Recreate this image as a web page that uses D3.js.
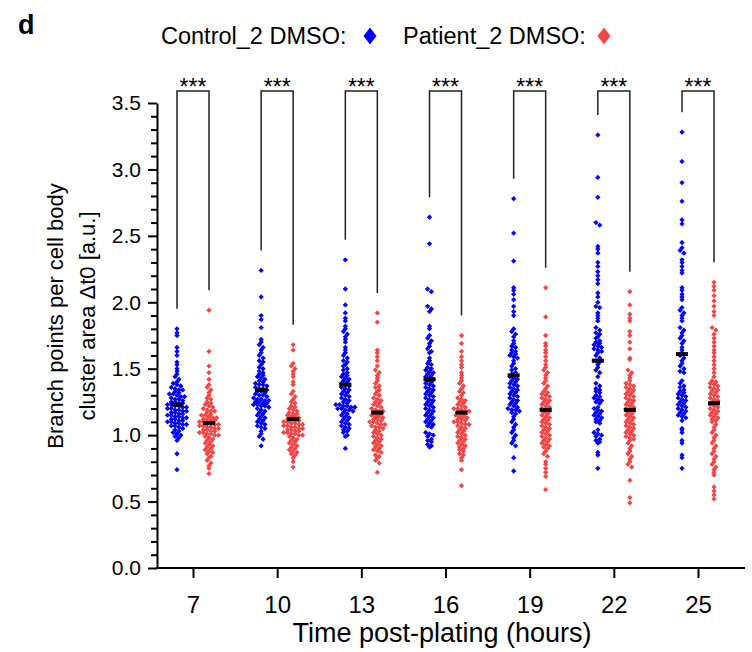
<!DOCTYPE html>
<html>
<head>
<meta charset="utf-8">
<script src="https://cdn.jsdelivr.net/npm/d3@7"></script>
<style>
  body { margin: 0; background: #fff; }
  svg { display: block; }
  text { font-family: Arial, "Liberation Sans", sans-serif; fill: #000; }
</style>
</head>
<body>
<svg id="chart" width="752" height="652"></svg>
<script>
// time points (hours post-plating)
const categories = ["7", "10", "13", "16", "19", "22", "25"];
const seriesNames = ["Control_2 DMSO:", "Patient_2 DMSO:"];
const sigLabels = ["***", "***", "***", "***", "***", "***", "***"];

// values, one array per group
const ctrl7 = [1.80, 1.77, 1.75, 1.66, 1.63, 1.60, 1.55, 1.53, 1.50, 1.48, 1.46, 1.44, 1.42, 1.40, 1.39, 1.38, 1.37, 1.36, 1.35, 1.34, 1.34, 1.33, 1.32, 1.31, 1.31, 1.30, 1.29, 1.29, 1.28, 1.27, 1.27, 1.26, 1.25, 1.25, 1.24, 1.24, 1.23, 1.23, 1.22, 1.22, 1.21, 1.21, 1.20, 1.20, 1.19, 1.19, 1.18, 1.18, 1.17, 1.17, 1.16, 1.16, 1.15, 1.15, 1.14, 1.14, 1.13, 1.13, 1.12, 1.12, 1.11, 1.11, 1.10, 1.10, 1.09, 1.09, 1.08, 1.08, 1.07, 1.07, 1.06, 1.05, 1.04, 1.03, 1.02, 1.01, 1.00, 0.99, 0.98, 0.96, 0.86, 0.74];
const pat7 = [1.94, 1.63, 1.52, 1.47, 1.42, 1.38, 1.36, 1.34, 1.32, 1.30, 1.28, 1.27, 1.25, 1.24, 1.23, 1.22, 1.21, 1.20, 1.19, 1.18, 1.18, 1.17, 1.16, 1.15, 1.15, 1.14, 1.13, 1.13, 1.12, 1.12, 1.11, 1.11, 1.10, 1.10, 1.09, 1.09, 1.08, 1.08, 1.07, 1.07, 1.06, 1.06, 1.05, 1.05, 1.04, 1.04, 1.03, 1.03, 1.02, 1.02, 1.01, 1.01, 1.00, 1.00, 0.99, 0.98, 0.97, 0.96, 0.95, 0.94, 0.93, 0.92, 0.91, 0.90, 0.89, 0.88, 0.87, 0.86, 0.84, 0.83, 0.81, 0.79, 0.77, 0.75, 0.71];
const ctrl10 = [2.24, 2.04, 1.90, 1.87, 1.81, 1.72, 1.70, 1.68, 1.66, 1.64, 1.62, 1.60, 1.58, 1.56, 1.55, 1.53, 1.51, 1.50, 1.48, 1.47, 1.46, 1.45, 1.44, 1.43, 1.42, 1.41, 1.40, 1.39, 1.38, 1.38, 1.37, 1.36, 1.35, 1.35, 1.34, 1.33, 1.33, 1.32, 1.31, 1.30, 1.30, 1.29, 1.28, 1.27, 1.27, 1.26, 1.26, 1.25, 1.25, 1.24, 1.24, 1.23, 1.23, 1.22, 1.22, 1.21, 1.20, 1.19, 1.18, 1.17, 1.16, 1.15, 1.14, 1.13, 1.12, 1.11, 1.10, 1.09, 1.08, 1.07, 1.06, 1.05, 1.03, 1.01, 0.99, 0.97, 0.92];
const pat10 = [1.68, 1.64, 1.54, 1.52, 1.50, 1.48, 1.46, 1.44, 1.40, 1.38, 1.33, 1.31, 1.29, 1.27, 1.25, 1.24, 1.22, 1.21, 1.20, 1.19, 1.18, 1.17, 1.16, 1.16, 1.15, 1.14, 1.14, 1.13, 1.12, 1.12, 1.11, 1.11, 1.10, 1.10, 1.09, 1.09, 1.08, 1.08, 1.07, 1.07, 1.06, 1.06, 1.05, 1.05, 1.04, 1.04, 1.03, 1.03, 1.02, 1.02, 1.01, 1.01, 1.00, 1.00, 0.99, 0.98, 0.97, 0.96, 0.95, 0.94, 0.93, 0.92, 0.91, 0.90, 0.89, 0.88, 0.87, 0.86, 0.85, 0.83, 0.80, 0.76];
const ctrl13 = [2.32, 2.10, 1.98, 1.92, 1.88, 1.86, 1.82, 1.80, 1.78, 1.76, 1.74, 1.72, 1.70, 1.66, 1.64, 1.62, 1.60, 1.58, 1.56, 1.55, 1.53, 1.52, 1.50, 1.49, 1.47, 1.46, 1.45, 1.44, 1.43, 1.42, 1.41, 1.40, 1.39, 1.38, 1.37, 1.36, 1.35, 1.34, 1.33, 1.32, 1.31, 1.30, 1.29, 1.28, 1.27, 1.26, 1.25, 1.24, 1.23, 1.23, 1.22, 1.22, 1.21, 1.21, 1.20, 1.20, 1.19, 1.19, 1.18, 1.17, 1.16, 1.15, 1.14, 1.13, 1.12, 1.11, 1.10, 1.09, 1.08, 1.07, 1.06, 1.05, 1.04, 1.03, 1.02, 1.00, 0.99, 0.90];
const pat13 = [1.92, 1.85, 1.64, 1.62, 1.59, 1.56, 1.52, 1.49, 1.47, 1.45, 1.43, 1.41, 1.39, 1.37, 1.36, 1.34, 1.33, 1.31, 1.30, 1.28, 1.27, 1.26, 1.25, 1.24, 1.23, 1.22, 1.21, 1.20, 1.19, 1.18, 1.18, 1.17, 1.16, 1.16, 1.15, 1.14, 1.14, 1.13, 1.12, 1.12, 1.11, 1.10, 1.10, 1.09, 1.08, 1.08, 1.07, 1.06, 1.06, 1.05, 1.04, 1.03, 1.02, 1.01, 1.00, 0.99, 0.98, 0.97, 0.96, 0.95, 0.94, 0.93, 0.92, 0.91, 0.90, 0.89, 0.88, 0.87, 0.85, 0.84, 0.83, 0.81, 0.79, 0.72];
const ctrl16 = [2.64, 2.44, 2.10, 2.08, 1.97, 1.95, 1.93, 1.82, 1.80, 1.75, 1.73, 1.71, 1.69, 1.67, 1.65, 1.63, 1.62, 1.58, 1.56, 1.54, 1.53, 1.51, 1.50, 1.49, 1.48, 1.47, 1.46, 1.45, 1.44, 1.43, 1.42, 1.41, 1.40, 1.39, 1.38, 1.37, 1.36, 1.35, 1.34, 1.33, 1.32, 1.31, 1.30, 1.29, 1.28, 1.27, 1.26, 1.25, 1.24, 1.23, 1.22, 1.21, 1.20, 1.19, 1.18, 1.17, 1.16, 1.15, 1.14, 1.13, 1.12, 1.11, 1.10, 1.09, 1.08, 1.07, 1.06, 1.02, 1.01, 1.00, 0.99, 0.97, 0.96, 0.95, 0.93, 0.92, 0.91];
const pat16 = [1.75, 1.69, 1.63, 1.59, 1.56, 1.53, 1.51, 1.47, 1.45, 1.43, 1.41, 1.39, 1.37, 1.35, 1.33, 1.32, 1.30, 1.28, 1.27, 1.26, 1.25, 1.24, 1.23, 1.22, 1.21, 1.20, 1.20, 1.19, 1.18, 1.18, 1.17, 1.16, 1.16, 1.15, 1.14, 1.14, 1.13, 1.12, 1.12, 1.11, 1.10, 1.10, 1.09, 1.08, 1.08, 1.07, 1.06, 1.05, 1.04, 1.03, 1.02, 1.01, 1.00, 0.99, 0.98, 0.97, 0.96, 0.95, 0.94, 0.93, 0.92, 0.91, 0.90, 0.89, 0.88, 0.86, 0.85, 0.83, 0.81, 0.74, 0.62];
const ctrl19 = [2.78, 2.52, 2.31, 2.11, 2.09, 2.06, 2.02, 1.97, 1.93, 1.90, 1.80, 1.78, 1.76, 1.74, 1.71, 1.69, 1.67, 1.66, 1.64, 1.63, 1.62, 1.61, 1.60, 1.59, 1.58, 1.56, 1.54, 1.52, 1.50, 1.49, 1.47, 1.46, 1.45, 1.44, 1.43, 1.42, 1.41, 1.40, 1.39, 1.38, 1.37, 1.36, 1.35, 1.34, 1.33, 1.32, 1.31, 1.30, 1.29, 1.28, 1.27, 1.26, 1.25, 1.24, 1.23, 1.22, 1.21, 1.20, 1.19, 1.19, 1.18, 1.17, 1.16, 1.14, 1.12, 1.10, 1.08, 1.06, 1.04, 1.02, 1.00, 0.98, 0.96, 0.94, 0.92, 0.83, 0.73];
const pat19 = [2.11, 1.89, 1.75, 1.69, 1.67, 1.64, 1.62, 1.59, 1.56, 1.53, 1.51, 1.49, 1.47, 1.45, 1.43, 1.41, 1.39, 1.37, 1.35, 1.33, 1.32, 1.31, 1.30, 1.29, 1.28, 1.27, 1.26, 1.25, 1.24, 1.23, 1.22, 1.21, 1.20, 1.19, 1.18, 1.17, 1.16, 1.15, 1.14, 1.13, 1.12, 1.11, 1.10, 1.09, 1.08, 1.07, 1.06, 1.05, 1.04, 1.03, 1.02, 1.01, 1.00, 0.99, 0.98, 0.97, 0.96, 0.95, 0.94, 0.93, 0.92, 0.91, 0.90, 0.88, 0.86, 0.84, 0.80, 0.78, 0.75, 0.72, 0.69, 0.59];
const ctrl22 = [3.26, 2.94, 2.79, 2.60, 2.58, 2.42, 2.40, 2.37, 2.30, 2.27, 2.23, 2.20, 2.17, 2.14, 2.07, 2.04, 2.00, 1.97, 1.96, 1.92, 1.90, 1.88, 1.86, 1.81, 1.79, 1.77, 1.76, 1.74, 1.73, 1.71, 1.70, 1.69, 1.68, 1.67, 1.66, 1.65, 1.64, 1.63, 1.62, 1.60, 1.58, 1.56, 1.55, 1.53, 1.51, 1.49, 1.47, 1.44, 1.39, 1.37, 1.35, 1.34, 1.33, 1.32, 1.30, 1.29, 1.28, 1.27, 1.26, 1.25, 1.24, 1.21, 1.20, 1.19, 1.18, 1.17, 1.16, 1.15, 1.14, 1.13, 1.12, 1.11, 1.10, 1.09, 1.04, 1.02, 1.01, 1.00, 0.99, 0.97, 0.96, 0.95, 0.94, 0.87, 0.85, 0.75];
const pat22 = [2.08, 1.98, 1.91, 1.88, 1.86, 1.78, 1.75, 1.70, 1.65, 1.58, 1.57, 1.49, 1.47, 1.45, 1.43, 1.41, 1.39, 1.38, 1.37, 1.36, 1.35, 1.34, 1.33, 1.32, 1.31, 1.30, 1.29, 1.28, 1.27, 1.26, 1.25, 1.24, 1.23, 1.22, 1.21, 1.20, 1.19, 1.18, 1.17, 1.16, 1.15, 1.14, 1.13, 1.12, 1.11, 1.10, 1.09, 1.08, 1.07, 1.06, 1.05, 1.04, 1.03, 1.02, 1.01, 1.00, 0.99, 0.98, 0.97, 0.96, 0.94, 0.92, 0.90, 0.88, 0.86, 0.84, 0.82, 0.80, 0.78, 0.76, 0.66, 0.53, 0.49];
const ctrl25 = [3.28, 3.06, 2.90, 2.76, 2.62, 2.59, 2.45, 2.41, 2.39, 2.37, 2.32, 2.30, 2.27, 2.24, 2.22, 2.11, 2.09, 2.06, 2.04, 2.02, 1.96, 1.94, 1.92, 1.90, 1.88, 1.86, 1.81, 1.79, 1.77, 1.75, 1.73, 1.71, 1.69, 1.66, 1.64, 1.62, 1.60, 1.58, 1.56, 1.54, 1.52, 1.50, 1.48, 1.47, 1.41, 1.39, 1.37, 1.36, 1.34, 1.33, 1.32, 1.31, 1.30, 1.29, 1.28, 1.27, 1.26, 1.25, 1.24, 1.23, 1.22, 1.21, 1.20, 1.19, 1.18, 1.17, 1.16, 1.15, 1.14, 1.13, 1.11, 1.05, 1.04, 1.02, 0.96, 0.94, 0.85, 0.83, 0.75];
const pat25 = [2.15, 2.12, 2.09, 2.05, 2.01, 1.97, 1.93, 1.90, 1.81, 1.79, 1.76, 1.73, 1.70, 1.67, 1.64, 1.62, 1.59, 1.56, 1.53, 1.50, 1.47, 1.44, 1.41, 1.40, 1.39, 1.38, 1.37, 1.36, 1.35, 1.34, 1.33, 1.32, 1.31, 1.30, 1.29, 1.28, 1.27, 1.26, 1.25, 1.24, 1.23, 1.22, 1.21, 1.20, 1.19, 1.18, 1.17, 1.16, 1.15, 1.14, 1.13, 1.12, 1.11, 1.10, 1.08, 1.06, 1.04, 1.02, 1.00, 0.98, 0.96, 0.94, 0.92, 0.90, 0.88, 0.86, 0.84, 0.82, 0.80, 0.78, 0.76, 0.74, 0.72, 0.70, 0.61, 0.58, 0.55, 0.52];

// centre marks (mean)
const ctrlMean = [1.23, 1.34, 1.38, 1.42, 1.45, 1.56, 1.61];
const patMean = [1.09, 1.12, 1.17, 1.17, 1.19, 1.19, 1.24];

const ctrlData = [ctrl7, ctrl10, ctrl13, ctrl16, ctrl19, ctrl22, ctrl25];
const patData = [pat7, pat10, pat13, pat16, pat19, pat22, pat25];

const colors = ["#0000ff", "#f54545"];
const FONT = "Arial, 'Liberation Sans', sans-serif";

const svg = d3.select("#chart");

const y = d3.scaleLinear().domain([0, 3.5]).range([568, 103]);
const x = d3.scalePoint().domain(categories).range([193, 698]);
const dodge = 16;

// y axis, major + minor ticks
const yAxis = svg.append("g")
    .attr("transform", "translate(157,0)")
    .call(d3.axisLeft(y)
        .tickValues(d3.range(0, 3.51, 0.5))
        .tickFormat(d3.format(".1f"))
        .tickSize(9)
        .tickSizeOuter(0)
        .tickPadding(7));
yAxis.select(".domain").attr("stroke-width", 2);
yAxis.selectAll(".tick line").attr("stroke-width", 2);
yAxis.selectAll(".tick text").attr("font-size", 21).attr("font-family", FONT);

const minor = d3.range(1, 35).filter(d => d % 5 !== 0).map(d => d / 10);
svg.append("g")
    .attr("transform", "translate(157,0)")
    .call(d3.axisLeft(y).tickValues(minor).tickFormat("").tickSize(6).tickSizeOuter(0))
    .call(g => g.select(".domain").remove())
    .selectAll(".tick line").attr("stroke-width", 2);

// x axis
const xAxis = svg.append("g")
    .attr("transform", "translate(0,568)")
    .call(d3.axisBottom(x).tickSize(10).tickSizeOuter(0).tickPadding(18));
xAxis.select(".domain").remove();
xAxis.selectAll(".tick line").attr("stroke-width", 2);
xAxis.selectAll(".tick text").attr("font-size", 24).attr("font-family", FONT);
svg.append("line")
    .attr("x1", 156).attr("x2", 745)
    .attr("y1", 568).attr("y2", 568)
    .attr("stroke", "#000").attr("stroke-width", 2);

// axis titles
svg.append("text")
    .attr("x", 442).attr("y", 642)
    .attr("text-anchor", "middle")
    .attr("font-size", 27)
    .text("Time post-plating (hours)");

const yTitle = svg.append("text")
    .attr("transform", "translate(63,316) rotate(-90)")
    .attr("text-anchor", "middle")
    .attr("font-size", 22);
yTitle.append("tspan").attr("x", 0).attr("y", 0).text("Branch points per cell body");
yTitle.append("tspan").attr("x", 0).attr("y", 32).text("cluster area \u0394t0 [a.u.]");

// Prism-like scatter: points falling in the same pixel row sit side by side
function rowLayout(values, cx) {
    const rowH = 3.5, gap = 3.8;
    const pts = values.map(v => ({ v: v, y: y(v) }));
    d3.group(pts, p => Math.round(p.y / rowH)).forEach(list => {
        list.sort((a, b) => a.y - b.y);
        const n = list.length;
        list.forEach((p, j) => { p.x = cx + (j - (n - 1) / 2) * gap; });
    });
    return pts;
}

const dot = d3.symbol().type(d3.symbolSquare).size(14);

categories.forEach((c, i) => {
    const cx = x(c);
    [ctrlData[i], patData[i]].forEach((vals, s) => {
        const gx = cx + (s === 0 ? -dodge : dodge);
        svg.append("g").selectAll("path")
            .data(rowLayout(vals, gx))
            .enter()
            .append("path")
            .attr("d", dot)
            .attr("transform", d => `translate(${d.x},${d.y}) rotate(45)`)
            .attr("fill", colors[s]);
        const m = s === 0 ? ctrlMean[i] : patMean[i];
        svg.append("rect")
            .attr("x", gx - 6).attr("y", y(m) - 2)
            .attr("width", 12).attr("height", 4)
            .attr("fill", "#000");
    });

    // significance bracket
    const lb = y(d3.max(ctrlData[i])) - 20;
    const rb = y(d3.max(patData[i])) - 20;
    svg.append("path")
        .attr("d", `M${cx - dodge},${lb}V91H${cx + dodge}V${rb}`)
        .attr("fill", "none")
        .attr("stroke", "#222")
        .attr("stroke-width", 1.5);
    svg.append("text")
        .attr("x", cx).attr("y", 95)
        .attr("text-anchor", "middle")
        .attr("font-size", 23)
        .text(sigLabels[i]);
});

// legend
const diamond = "M0,-8.5L6.5,0L0,8.5L-6.5,0Z";
svg.append("text").attr("x", 161).attr("y", 44).attr("font-size", 23.5).text(seriesNames[0]);
svg.append("path").attr("d", diamond).attr("transform", "translate(370,36)").attr("fill", colors[0]);
svg.append("text").attr("x", 403).attr("y", 44).attr("font-size", 23.5).text(seriesNames[1]);
svg.append("path").attr("d", diamond).attr("transform", "translate(604,36)").attr("fill", colors[1]);

// panel letter
svg.append("text").attr("x", 18).attr("y", 34).attr("font-size", 27).attr("font-weight", "bold").text("d");
</script>
</body>
</html>
